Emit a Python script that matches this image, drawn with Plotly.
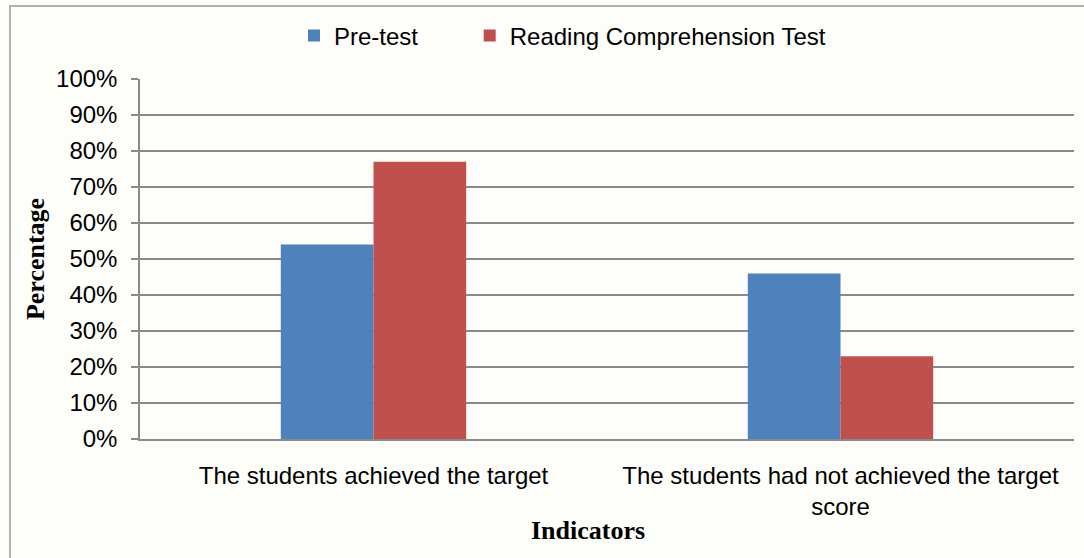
import plotly.graph_objects as go

categories = ["The students achieved the target",
              "The students had not achieved the target<br>score"]
pretest = [54, 46]
reading = [77, 23]
series_names = ["Pre-test" + "\u00a0" * 7, "Reading Comprehension Test"]
y_ticks = list(range(0, 101, 10))
y_tick_labels = [f"{v}%" for v in y_ticks]
x_title = "Indicators"
y_title = "Percentage"

font_main = "Liberation Sans, Arial, sans-serif"
font_serif = "Liberation Serif, Times New Roman, serif"

W, H = 1084, 558
ML, MR, MT, MB = 140, 10, 79, 119
PW, PH = W - ML - MR, H - MT - MB

fig = go.Figure()
fig.add_trace(go.Bar(x=categories, y=pretest, name=series_names[0],
                     marker=dict(color="#4f81bd", line=dict(width=0))))
fig.add_trace(go.Bar(x=categories, y=reading, name=series_names[1],
                     marker=dict(color="#c0504d", line=dict(width=0))))

fig.update_layout(
    width=W, height=H,
    margin=dict(l=ML, r=MR, t=MT, b=MB, autoexpand=False),
    paper_bgcolor="#fdfdf9",
    plot_bgcolor="#fdfdf9",
    barmode="group",
    bargap=0.603,
    bargroupgap=0,
    font=dict(family=font_main, size=24, color="#000000"),
    legend=dict(orientation="h", x=(294 - ML) / PW, xanchor="left",
                y=1 + 43 / PH, yanchor="middle",
                font=dict(family=font_main, size=24),
                itemwidth=30, traceorder="normal", bgcolor="rgba(0,0,0,0)"),
    showlegend=True,
)

fig.update_yaxes(range=[0, 100], tickvals=y_ticks, ticktext=y_tick_labels,
                 showgrid=True, gridcolor="#8a8a8a", gridwidth=1.5,
                 showline=True, linecolor="#8a8a8a", linewidth=1.5,
                 ticks="outside", ticklen=7, tickcolor="#8a8a8a", tickwidth=1.5,
                 ticklabelstandoff=9, zeroline=False,
                 tickfont=dict(family=font_main, size=24),
                 title=dict(text=f"<b>{y_title}</b>", standoff=4,
                            font=dict(family=font_serif, size=26)))
fig.update_xaxes(showline=True, linecolor="#8a8a8a", linewidth=1.5, ticks="",
                 ticklabelstandoff=14,
                 tickfont=dict(family=font_main, size=24))

fig.add_annotation(text=f"<b>{x_title}</b>", xref="paper", yref="paper",
                   x=(588 - ML) / PW, y=-(530 - (H - MB)) / PH,
                   xanchor="center", yanchor="middle", showarrow=False,
                   font=dict(family=font_serif, size=26))

fig.add_shape(type="rect", xref="paper", yref="paper",
              x0=(10 - ML) / PW, x1=1.05, y0=-0.5, y1=1 + (MT - 6) / PH,
              line=dict(color="#b0b0b0", width=2), fillcolor="rgba(0,0,0,0)", layer="below")

fig.write_html("out.html", config={"displayModeBar": False},
               post_script="document.body.style.margin='0px';")
